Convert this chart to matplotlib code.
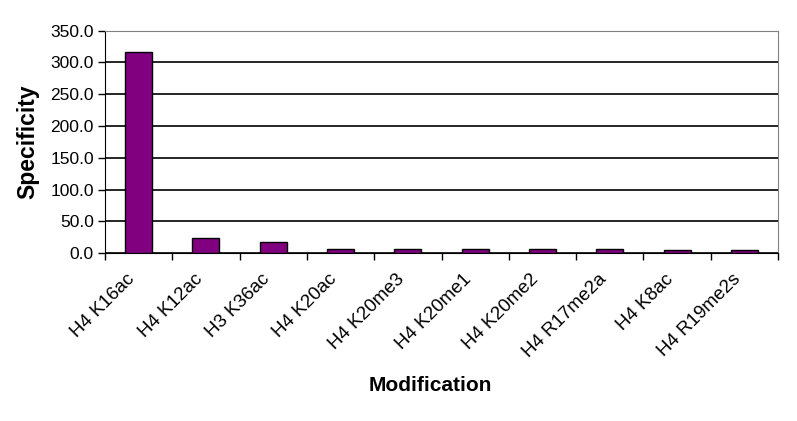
import numpy as np
import matplotlib.pyplot as plt

plt.rcParams['font.family'] = ['Liberation Sans', 'DejaVu Sans']

# data
modifications = ["H4 K16ac", "H4 K12ac", "H3 K36ac", "H4 K20ac", "H4 K20me3",
                 "H4 K20me1", "H4 K20me2", "H4 R17me2a", "H4 K8ac", "H4 R19me2s"]
specificity = [317.0, 23.0, 17.0, 6.3, 6.3, 6.3, 6.3, 6.3, 4.7, 4.7]

fig = plt.figure(figsize=(7.97, 4.21), dpi=100)
ax = fig.add_axes([0.1317, 0.399, 0.8446, 0.528])

x = np.arange(len(modifications))
ax.bar(x, specificity, width=0.4, color="#800080", edgecolor="black", linewidth=1, zorder=3)

ax.set_xlim(-0.5, len(modifications) - 0.5)
ax.set_ylim(0, 350)
ax.set_yticks(np.arange(0, 351, 50))
ax.set_yticklabels(["%.1f" % v for v in np.arange(0, 351, 50)], fontsize=12.5)
ax.yaxis.grid(True, color="black", linewidth=1.2, zorder=0)
ax.tick_params(axis="y", length=5, width=1, direction="out", pad=3)

# category labels between tick marks
ax.set_xticks(np.arange(-0.5, len(modifications), 1))
ax.set_xticklabels([])
ax.tick_params(axis="x", length=5, width=1, direction="out")
for xi, lab in zip(x, modifications):
    ax.text(xi - 0.18, -28, lab, rotation=45, ha="right", va="top",
            fontsize=13.5, rotation_mode="anchor")

ax.spines["left"].set_color("black")
ax.spines["bottom"].set_color("black")
ax.spines["top"].set_color("#808080")
ax.spines["right"].set_color("#808080")

ax.set_ylabel("Specificity", fontsize=16.5, fontweight="bold", labelpad=8)
fig.text(0.54, 0.085, "Modification", ha="center", va="center",
         fontsize=15, fontweight="bold")

plt.savefig("out.png", dpi=100)
